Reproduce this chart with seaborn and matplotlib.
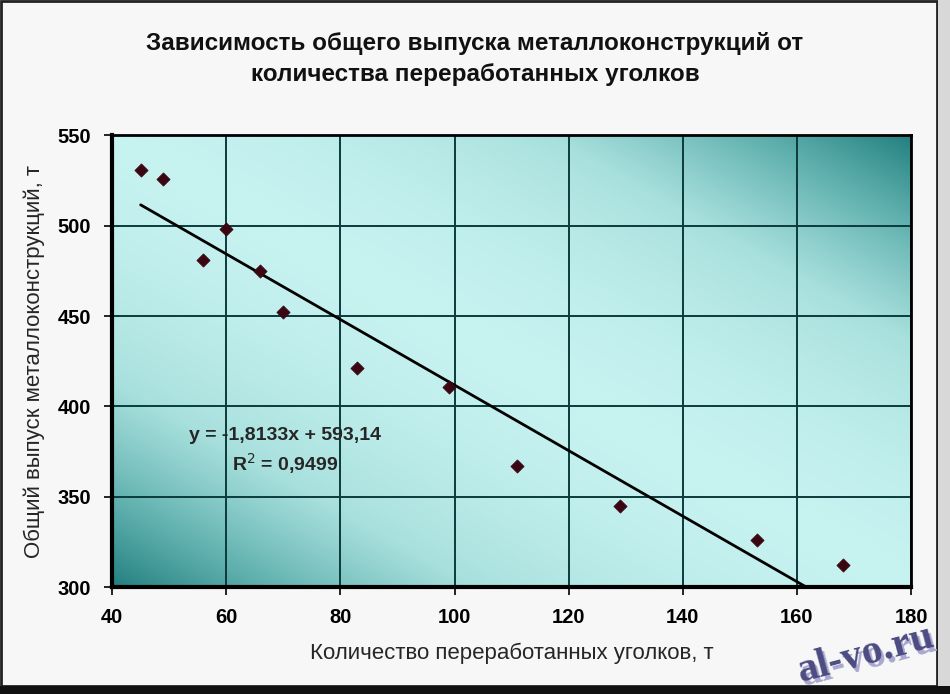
import numpy as np
import pandas as pd
import matplotlib.pyplot as plt
import seaborn as sns
from matplotlib.colors import LinearSegmentedColormap
from matplotlib.patches import Rectangle

# Data
angles_t = [45, 49, 56, 60, 66, 70, 83, 99, 111, 129, 153, 168]
output_t = [531, 526, 481, 498, 475, 452, 421, 411, 367, 345, 326, 312]
slope = -1.8133
intercept = 593.14
r2 = 0.9499
x_ticks = [40, 60, 80, 100, 120, 140, 160, 180]
y_ticks = [300, 350, 400, 450, 500, 550]

df = pd.DataFrame({"x": angles_t, "y": output_t})
trend = pd.DataFrame({"x": [min(angles_t), max(angles_t)]})
trend["y"] = slope * trend["x"] + intercept

sns.set_style("ticks")
plt.rcParams["font.family"] = ["Liberation Sans", "DejaVu Sans"]

fig = plt.figure(figsize=(9.5, 6.94), dpi=100)
fig.patch.set_facecolor("#f7f7f7")
ax = fig.add_axes([0.118, 0.154, 0.841, 0.651])

# gradient background of the plot area
u, v = np.meshgrid(np.linspace(0, 1, 400), np.linspace(1, 0, 300))
t = np.clip(np.abs(u + v - 1), 0, 1) ** 1.8
cmap = LinearSegmentedColormap.from_list("teal", ["#c6f2f0", "#a8e0dd", "#62b2b0", "#23807f"])
ax.imshow(t, cmap=cmap, extent=[40, 180, 300, 550], aspect="auto", zorder=0,
          vmin=0, vmax=1, interpolation="bilinear")

sns.lineplot(data=trend, x="x", y="y", color="black", linewidth=2, ax=ax, zorder=3)
sns.scatterplot(data=df, x="x", y="y", marker="D", s=45, color="#3a0612",
                edgecolor="#3a0612", ax=ax, zorder=4)

ax.set_xlim(40, 180)
ax.set_ylim(300, 550)
ax.set_xticks(x_ticks)
ax.set_yticks(y_ticks)
ax.grid(True, color="#0c3b3b", linewidth=1.4)
ax.set_axisbelow(False)
for line in ax.get_xgridlines() + ax.get_ygridlines():
    line.set_zorder(1)
for side in ["left", "bottom"]:
    ax.spines[side].set_linewidth(3)
for side in ["right", "top"]:
    ax.spines[side].set_linewidth(2)
for sp in ax.spines.values():
    sp.set_color("black")
    sp.set_zorder(5)
ax.tick_params(direction="out", length=6, width=1.2, pad=9, labelsize=14.5,
               colors="black")
for lbl in ax.get_xticklabels() + ax.get_yticklabels():
    lbl.set_fontweight("bold")

ax.set_xlabel("Количество переработанных уголков, т", fontsize=16, labelpad=11)
ax.set_ylabel("Общий выпуск металлоконструкций, т", fontsize=16, labelpad=9)

ax.text(70.3, 375, f"y = {slope:.4f}x + {intercept:.2f}".replace(".", ",")
        + "\n" + f"R$^2$ = {r2:.4f}".replace(".", ","),
        ha="center", va="center", fontsize=14, fontweight="bold",
        linespacing=1.35, zorder=6)

fig.text(0.5, 0.915, "Зависимость общего выпуска металлоконструкций от\nколичества переработанных уголков",
         ha="center", va="center", fontsize=17.5, fontweight="bold",
         linespacing=1.45, color="#111111")

# watermark
fig.text(0.915, 0.052, "al-vo.ru", ha="center", va="center", fontsize=30,
         family=["Liberation Serif", "DejaVu Serif"], fontweight="bold",
         color="#a8a8d0", rotation=15)
fig.text(0.911, 0.057, "al-vo.ru", ha="center", va="center", fontsize=30,
         family=["Liberation Serif", "DejaVu Serif"], fontweight="bold",
         color="#4c4c82", rotation=15)

# outer frame with shadow
fig.patches.append(Rectangle((0.001, 0.012), 0.985, 0.986, transform=fig.transFigure,
                             fill=False, edgecolor="#222222", linewidth=2))
fig.patches.append(Rectangle((0.0, 0.0), 1.0, 0.011, transform=fig.transFigure,
                             facecolor="#111111", edgecolor="none"))
fig.patches.append(Rectangle((0.987, 0.011), 0.013, 0.989, transform=fig.transFigure,
                             facecolor="#d8d8d8", edgecolor="none"))

fig.savefig("out.png", dpi=100, facecolor=fig.get_facecolor())
